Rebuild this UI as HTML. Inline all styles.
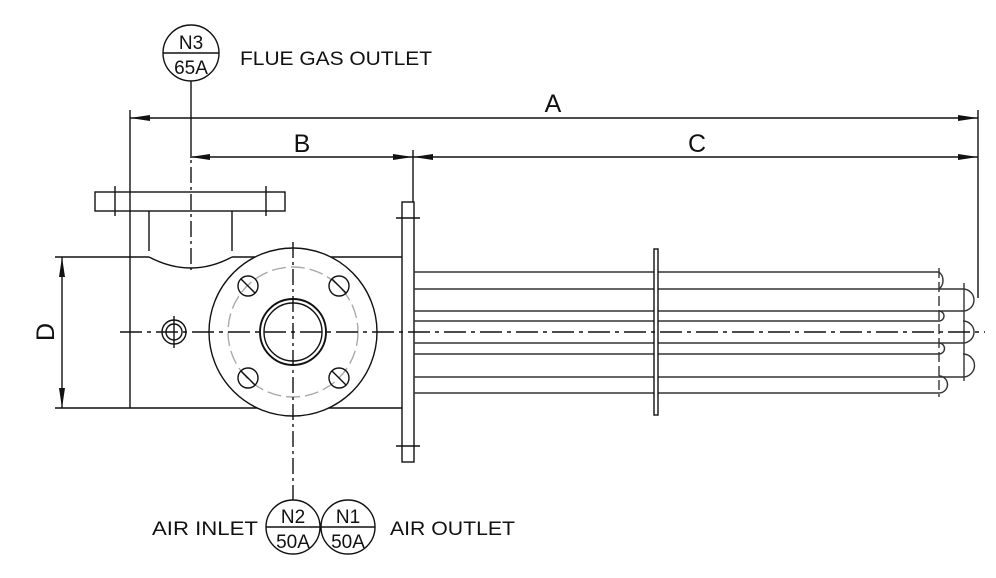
<!DOCTYPE html>
<html><head><style>body{margin:0;background:#fff}svg{display:block}text{font-family:"Liberation Sans","DejaVu Sans",sans-serif;fill:#111}</style></head><body>
<svg width="996" height="578" viewBox="0 0 996 578" xmlns="http://www.w3.org/2000/svg">
<defs><marker id="ar" viewBox="0 0 20 6" refX="20" refY="3" markerWidth="20" markerHeight="6" markerUnits="userSpaceOnUse" orient="auto-start-reverse"><path d="M0,0L20,3L0,6z" fill="#111"/></marker></defs>
<g stroke="#111" stroke-width="1.4" fill="none">
<line x1="130" y1="118" x2="978" y2="118" marker-start="url(#ar)" marker-end="url(#ar)"/>
<line x1="190" y1="157" x2="413" y2="157" marker-start="url(#ar)" marker-end="url(#ar)"/>
<line x1="413" y1="157" x2="978" y2="157" marker-start="url(#ar)" marker-end="url(#ar)"/>
<line x1="130" y1="110" x2="130" y2="408"/>
<line x1="413" y1="150" x2="413" y2="202"/>
<line x1="978" y1="110" x2="978" y2="298"/>
<line x1="62" y1="257" x2="62" y2="408" marker-start="url(#ar)" marker-end="url(#ar)"/>
<line x1="55" y1="257" x2="130" y2="257"/>
<line x1="55" y1="408" x2="130" y2="408"/>
<line x1="191" y1="81" x2="191" y2="140"/>
<line x1="191" y1="140" x2="191" y2="270" stroke-dasharray="16,4,3,4"/>
<rect x="95" y="192" width="190" height="19"/>
<line x1="115" y1="186" x2="115" y2="216"/><line x1="266" y1="186" x2="266" y2="216"/>
<line x1="149" y1="211" x2="149" y2="251"/><line x1="232" y1="211" x2="232" y2="251"/>
<path d="M149,257 Q191,279 232,257"/>
<line x1="130" y1="257" x2="149" y2="257"/><line x1="232" y1="257" x2="402" y2="257"/>
<line x1="130" y1="408" x2="402" y2="408"/>
<circle cx="293" cy="332" r="84" fill="#fff"/>
<circle cx="293" cy="332" r="65" stroke="#aaa" stroke-dasharray="14,5"/>
<circle cx="293" cy="332" r="33" stroke-width="1.9"/><circle cx="293" cy="332" r="29"/>
<g><circle cx="248" cy="286" r="10"/><line x1="241" y1="279" x2="255" y2="293"/>
<circle cx="339" cy="286" r="10"/><line x1="332" y1="279" x2="346" y2="293"/>
<circle cx="248" cy="378" r="10"/><line x1="241" y1="371" x2="255" y2="385"/>
<circle cx="339" cy="378" r="10"/><line x1="332" y1="371" x2="346" y2="385"/></g>
<line x1="293" y1="242" x2="293" y2="500" stroke-dasharray="16,4,3,4"/>
<circle cx="174" cy="332" r="12"/><circle cx="174" cy="332" r="8"/>
<line x1="174" y1="316" x2="174" y2="348"/>
<rect x="402" y="202" width="12" height="260" fill="#fff"/>
<line x1="396" y1="218" x2="420" y2="218"/><line x1="396" y1="446" x2="420" y2="446"/>
<g stroke="#333">
<line x1="414" y1="272" x2="939" y2="272"/><line x1="414" y1="289" x2="963" y2="289"/>
<line x1="414" y1="311" x2="963" y2="311"/><line x1="414" y1="321" x2="939" y2="321"/>
<line x1="414" y1="343" x2="963" y2="343"/><line x1="414" y1="354" x2="939" y2="354"/>
<line x1="414" y1="377" x2="963" y2="377"/><line x1="414" y1="393" x2="939" y2="393"/>
<path d="M939,272 A11,11 0 0 1 939,289"/><path d="M939,376 A8,8 0 0 1 939,393"/>
<path d="M939,311 A5,5 0 0 1 939,321"/><path d="M939,343 A5,5 0 0 1 939,354"/>
<path d="M963,289 A11,11 0 0 1 963,311"/><path d="M963,321 A11,11 0 0 1 963,343"/><path d="M963,354 A11.5,11.5 0 0 1 963,377"/>
<line x1="939" y1="268" x2="939" y2="397" stroke-dasharray="10,4"/>
<line x1="964" y1="283" x2="964" y2="381"/>
</g>
<rect x="654" y="249" width="4" height="166" fill="#fff"/>
<line x1="120" y1="332" x2="985" y2="332" stroke-dasharray="22,5,4,5"/>
<circle cx="191" cy="53" r="28"/><line x1="163" y1="53" x2="219" y2="53"/>
<circle cx="293" cy="527" r="27"/><line x1="266" y1="527" x2="320" y2="527"/>
<circle cx="348" cy="527" r="27"/><line x1="321" y1="527" x2="375" y2="527"/>
</g>
<g font-size="19">
<text x="191" y="49" text-anchor="middle">N3</text><text x="191" y="74" text-anchor="middle">65A</text>
<text x="293" y="523" text-anchor="middle">N2</text><text x="293" y="548" text-anchor="middle">50A</text>
<text x="348" y="523" text-anchor="middle">N1</text><text x="348" y="548" text-anchor="middle">50A</text>
<text x="240" y="65" textLength="192" lengthAdjust="spacingAndGlyphs">FLUE GAS OUTLET</text>
<text x="152" y="535" textLength="106" lengthAdjust="spacingAndGlyphs">AIR INLET</text>
<text x="390" y="535" textLength="125" lengthAdjust="spacingAndGlyphs">AIR OUTLET</text>
</g>
<g font-size="25">
<text x="553" y="112" text-anchor="middle">A</text>
<text x="302" y="152" text-anchor="middle">B</text>
<text x="697" y="152" text-anchor="middle">C</text>
<text x="0" y="0" text-anchor="middle" transform="translate(54,332) rotate(-90)">D</text>
</g>
</svg>
</body></html>
